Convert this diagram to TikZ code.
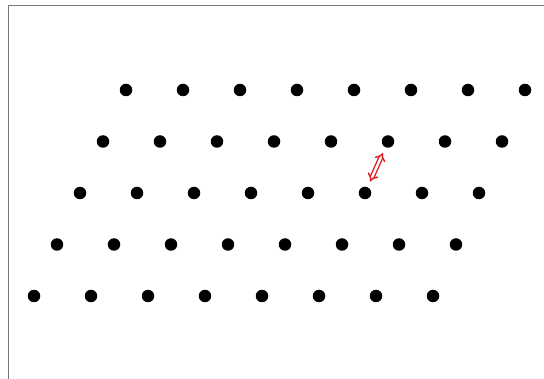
\documentclass[tikz,border=0pt]{standalone}
\usetikzlibrary{arrows.meta}
\definecolor{framegray}{RGB}{120,120,120}
\definecolor{arrowred}{RGB}{225,30,35}

\begin{document}
\begin{tikzpicture}[
  x=1pt, y=-1pt,
  site/.style={circle, fill=black, inner sep=0pt, minimum size=12.5pt},
]
\useasboundingbox (0,0) rectangle (544,379);

% -- frame (left and top edges) --
\draw[framegray, line width=1.5pt] (8.5,379) -- (8.5,5.5) -- (544,5.5);

% -- lattice sites --
\foreach \r in {1,...,5} {
  \foreach \c in {1,...,8} {
    \node[site] (d-\r-\c) at ({126 - 23*(\r-1) + 57*(\c-1)}, {90 + 51.5*(\r-1)}) {};
  }
}

% -- lattice vector --
\draw[arrowred, double, double distance=2.4pt, line width=1.4pt,
      {Implies[scale=1.3]}-{Implies[scale=1.3]}, shorten <=6pt, shorten >=6pt]
  (d-3-6) -- (d-2-6);

\end{tikzpicture}
\end{document}
